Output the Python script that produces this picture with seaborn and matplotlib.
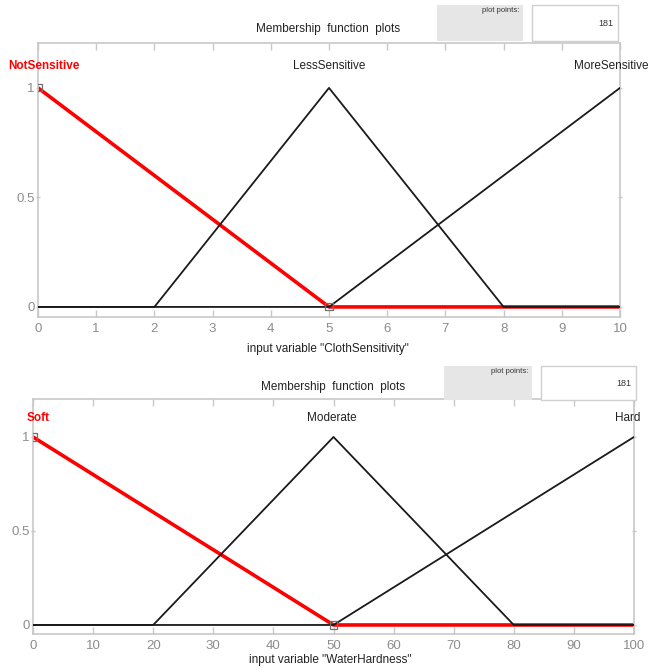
import matplotlib
matplotlib.use("Agg")
import matplotlib.pyplot as plt
from matplotlib.patches import Rectangle
import matplotlib.transforms as mtransforms
import numpy as np
import pandas as pd
import seaborn as sns

sns.set_theme(style="white")
plt.rcParams["font.family"] = ["Liberation Sans", "DejaVu Sans"]

# ---- membership functions: vertices of each trimf ----
cloth_x_ticks = [0, 1, 2, 3, 4, 5, 6, 7, 8, 9, 10]
cloth_names = ["NotSensitive", "LessSensitive", "MoreSensitive"]
cloth_not_x = [0, 5, 10]
cloth_not_y = [1, 0, 0]
cloth_less_x = [0, 2, 5, 8, 10]
cloth_less_y = [0, 0, 1, 0, 0]
cloth_more_x = [0, 5, 10]
cloth_more_y = [0, 0, 1]
cloth_peaks = [0, 5, 10]

water_x_ticks = [0, 10, 20, 30, 40, 50, 60, 70, 80, 90, 100]
water_names = ["Soft", "Moderate", "Hard"]
water_soft_x = [0, 50, 100]
water_soft_y = [1, 0, 0]
water_mod_x = [0, 20, 50, 80, 100]
water_mod_y = [0, 0, 1, 0, 0]
water_hard_x = [0, 50, 100]
water_hard_y = [0, 0, 1]
water_peaks = [0, 50, 100]

y_ticks = [0, 0.5, 1]
y_tick_labels = ["0", "0.5", "1"]
plot_points = "181"

W, H = 648, 668
fig = plt.figure(figsize=(W / 100, H / 100), dpi=100)
fig.patch.set_facecolor("white")


def px_rect(x0, y0, x1, y1):
    """Figure-fraction rectangle from pixel corners (top-left origin)."""
    return [x0 / W, (H - y1) / H, (x1 - x0) / W, (y1 - y0) / H]


GRID = "#c8c8c8"
TXT = "#8c8c8c"


def draw_panel(rect, xlim, ylim, xticks, sel, others, names, peaks, label_offsets,
               xlabel, title_xy, xlabel_xy, gbox, wbox):
    ax = fig.add_axes(px_rect(*rect))
    ax.set_facecolor("white")
    sx, sy = sel
    df_sel = pd.DataFrame({"x": sx, "y": sy})
    sns.lineplot(data=df_sel, x="x", y="y", ax=ax, color="#ff0000", lw=2.6,
                 sort=False, zorder=2)
    for ox, oy in others:
        sns.lineplot(x=ox, y=oy, ax=ax, color="#1a1a1a", lw=1.3, sort=False,
                     zorder=3)
    # vertex handles of the selected function
    ax.scatter([sx[0], sx[1]], [sy[0], sy[1]], marker="s", s=26,
               facecolor="none", edgecolor="#707070", lw=0.9, zorder=4)
    ax.set_xlim(*xlim)
    ax.set_ylim(*ylim)
    ax.set_xticks(xticks)
    ax.set_xticklabels([str(t) for t in xticks])
    ax.set_yticks(y_ticks)
    ax.set_yticklabels(y_tick_labels)
    ax.set_xlabel("")
    ax.set_ylabel("")
    for s in ax.spines.values():
        s.set_color(GRID)
        s.set_linewidth(1.2)
    ax.tick_params(axis="x", direction="in", length=5, color=GRID, top=True,
                   bottom=True, labelsize=9.5, labelcolor=TXT, pad=4, width=1)
    ax.tick_params(axis="y", direction="out", length=3, color=GRID, left=True,
                   right=False, labelsize=9.5, labelcolor=TXT, pad=1, width=1)
    ax.tick_params(axis="y", which="both", right=True, direction="inout")
    ax.tick_params(axis="y", labelright=False)
    # membership function names
    for i, (nm, pk) in enumerate(zip(names, peaks)):
        off = mtransforms.offset_copy(ax.transData, fig=fig,
                                      x=label_offsets[i], y=0, units="dots")
        ax.text(pk, 1.1, nm, transform=off, ha="center", va="center",
                fontsize=8.5, color="#ff0000" if i == 0 else "#222222",
                fontweight="bold" if i == 0 else "normal", clip_on=False)
    fig.text(title_xy[0] / W, 1 - title_xy[1] / H, "Membership  function  plots",
             ha="center", va="center", fontsize=8.5, color="#222222")
    fig.text(xlabel_xy[0] / W, 1 - xlabel_xy[1] / H, xlabel,
             ha="center", va="center", fontsize=8.5, color="#222222")
    gx0, gy0, gx1, gy1 = gbox
    fig.patches.append(Rectangle((gx0 / W, 1 - gy1 / H), (gx1 - gx0) / W,
                                 (gy1 - gy0) / H, transform=fig.transFigure,
                                 facecolor="#e6e6e6", edgecolor="none"))
    fig.text((gx1 - 4) / W, 1 - (gy0 + 6) / H, "plot points:", ha="right",
             va="center", fontsize=5.5, color="#333333")
    wx0, wy0, wx1, wy1 = wbox
    fig.patches.append(Rectangle((wx0 / W, 1 - wy1 / H), (wx1 - wx0) / W,
                                 (wy1 - wy0) / H, transform=fig.transFigure,
                                 facecolor="white", edgecolor="#cfcfcf", lw=1))
    fig.text((wx1 - 5) / W, 1 - ((wy0 + wy1) / 2) / H, plot_points,
             ha="right", va="center", fontsize=6.5, color="#333333")
    return ax


draw_panel((38, 43, 620, 317), (0, 10), (-0.046, 1.205), cloth_x_ticks,
           (cloth_not_x, cloth_not_y),
           [(cloth_less_x, cloth_less_y), (cloth_more_x, cloth_more_y)],
           cloth_names, cloth_peaks, [6, 0, -9],
           'input variable "ClothSensitivity"', (328, 29), (328, 349),
           (437, 5, 523, 41), (532, 5, 618, 41))

draw_panel((33, 399, 634, 634), (0, 100), (-0.048, 1.202), water_x_ticks,
           (water_soft_x, water_soft_y),
           [(water_mod_x, water_mod_y), (water_hard_x, water_hard_y)],
           water_names, water_peaks, [5, -2, -6],
           'input variable "WaterHardness"', (333, 387), (330, 660),
           (444, 366, 532, 400), (541, 366, 636, 400))

fig.savefig("out.png", dpi=100, facecolor="white")
